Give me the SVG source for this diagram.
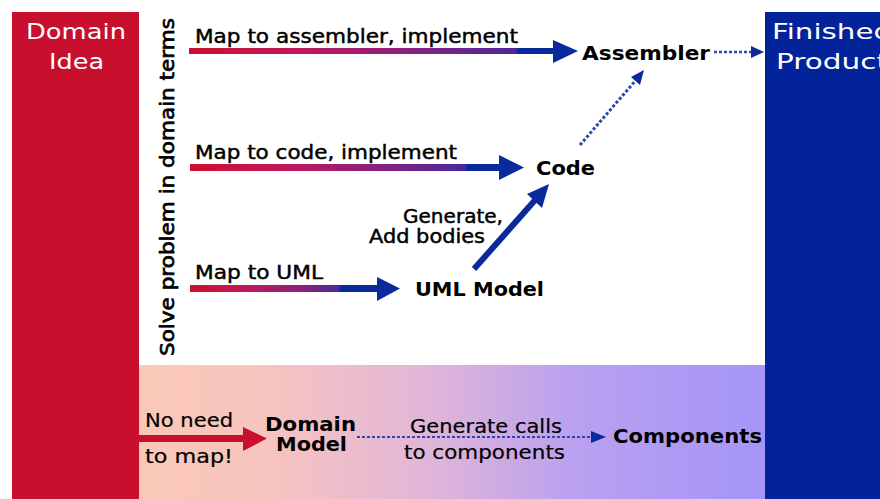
<svg xmlns="http://www.w3.org/2000/svg" width="880" height="499" viewBox="0 0 880 499">
<style>
.lbl{font-family:"DejaVu Sans","Liberation Sans",sans-serif;font-size:19px;fill:#000;stroke:#000;stroke-width:0.45}
.node{font-family:"DejaVu Sans","Liberation Sans",sans-serif;font-size:19px;font-weight:bold;fill:#000}
.wt{font-family:"DejaVu Sans","Liberation Sans",sans-serif;font-size:21px;fill:#fff}
.blue{fill:#0A2A9C}
.dot{stroke:#2A48B0;stroke-width:2.5;stroke-dasharray:3 2;fill:none}
</style>
<defs>
<linearGradient id="g1" gradientUnits="userSpaceOnUse" x1="189" y1="0" x2="556" y2="0">
<stop offset="0" stop-color="#CC1030"/><stop offset="0.3" stop-color="#C0185A"/><stop offset="0.6" stop-color="#8A2080"/><stop offset="0.89" stop-color="#4A2A98"/><stop offset="0.896" stop-color="#0A2A9C"/><stop offset="1" stop-color="#0A2A9C"/>
</linearGradient>
<linearGradient id="g2" gradientUnits="userSpaceOnUse" x1="190" y1="0" x2="501" y2="0">
<stop offset="0" stop-color="#CC1030"/><stop offset="0.3" stop-color="#C0185A"/><stop offset="0.6" stop-color="#8A2080"/><stop offset="0.885" stop-color="#4A2A98"/><stop offset="0.89" stop-color="#0A2A9C"/><stop offset="1" stop-color="#0A2A9C"/>
</linearGradient>
<linearGradient id="g3" gradientUnits="userSpaceOnUse" x1="190" y1="0" x2="378" y2="0">
<stop offset="0" stop-color="#CC1030"/><stop offset="0.3" stop-color="#C0185A"/><stop offset="0.6" stop-color="#8A2080"/><stop offset="0.79" stop-color="#4A2A98"/><stop offset="0.8" stop-color="#0A2A9C"/><stop offset="1" stop-color="#0A2A9C"/>
</linearGradient>
<linearGradient id="band" x1="0" y1="0" x2="1" y2="0">
<stop offset="0" stop-color="#FAC8B6"/><stop offset="0.2" stop-color="#F8C4C0"/><stop offset="0.45" stop-color="#E2B6D6"/><stop offset="0.7" stop-color="#B9A0F0"/><stop offset="1" stop-color="#A595F8"/>
</linearGradient>
</defs>

<rect x="0" y="0" width="880" height="499" fill="#fff"/>

<g id="band-domain-model">
<rect x="139" y="365" width="626" height="134" fill="url(#band)"/>
</g>

<g id="domain-idea">
<rect x="12" y="12" width="127" height="487" fill="#C8102E"/>
<text class="wt" x="26" y="39" textLength="100" lengthAdjust="spacingAndGlyphs">Domain</text>
<text class="wt" x="49" y="69" textLength="55" lengthAdjust="spacingAndGlyphs">Idea</text>
</g>

<g id="finished-product">
<rect x="765" y="12" width="115" height="487" fill="#02239A"/>
<text class="wt" x="772" y="39" textLength="120" lengthAdjust="spacingAndGlyphs">Finished</text>
<text class="wt" x="776" y="69" textLength="112" lengthAdjust="spacingAndGlyphs">Product</text>
</g>

<g id="solve-label">
<text class="lbl" transform="translate(174 356) rotate(-90)" x="0" y="0" textLength="338" lengthAdjust="spacingAndGlyphs" style="font-size:20px;stroke-width:0.7">Solve problem in domain terms</text>
</g>

<g id="assembler">
<text class="node" x="582" y="60" textLength="128" lengthAdjust="spacingAndGlyphs">Assembler</text>
</g>
<g id="code">
<text class="node" x="536" y="175" textLength="59" lengthAdjust="spacingAndGlyphs">Code</text>
</g>
<g id="uml-model">
<text class="node" x="415" y="296" textLength="129" lengthAdjust="spacingAndGlyphs">UML Model</text>
</g>
<g id="domain-model">
<text class="node" x="265" y="431" textLength="91" lengthAdjust="spacingAndGlyphs">Domain</text>
<text class="node" x="276" y="451" textLength="71" lengthAdjust="spacingAndGlyphs">Model</text>
</g>
<g id="components">
<text class="node" x="613" y="443" textLength="149" lengthAdjust="spacingAndGlyphs">Components</text>
</g>

<g id="connectors">
<!-- Map to assembler -->
<rect x="189" y="48" width="366" height="6" fill="url(#g1)"/>
<polygon class="blue" points="553,40 578,51 553,63"/>
<text class="lbl" x="195" y="43" textLength="323" lengthAdjust="spacingAndGlyphs">Map to assembler, implement</text>
<!-- Map to code -->
<rect x="190" y="164" width="311" height="7" fill="url(#g2)"/>
<polygon class="blue" points="499,155 524,167.5 499,180"/>
<text class="lbl" x="195" y="159" textLength="262" lengthAdjust="spacingAndGlyphs">Map to code, implement</text>
<!-- Map to UML -->
<rect x="190" y="285" width="189" height="7" fill="url(#g3)"/>
<polygon class="blue" points="377,277 400,288.5 377,301"/>
<text class="lbl" x="195" y="279" textLength="128" lengthAdjust="spacingAndGlyphs">Map to UML</text>
<!-- UML Model -> Code -->
<line x1="474" y1="269" x2="536" y2="199" stroke="#0A2A9C" stroke-width="6"/>
<polygon class="blue" points="549,184 542,208 527,194"/>
<text class="lbl" x="403" y="223" textLength="100" lengthAdjust="spacingAndGlyphs">Generate,</text>
<text class="lbl" x="369" y="243" textLength="116" lengthAdjust="spacingAndGlyphs">Add bodies</text>
<!-- Code -> Assembler dotted -->
<line class="dot" x1="580" y1="145" x2="636" y2="80" style="stroke-width:3"/>
<polygon class="blue" points="644,70 640,85 631,77"/>
<!-- Assembler -> Finished dotted -->
<line class="dot" x1="714" y1="52" x2="754" y2="52"/>
<polygon class="blue" points="764,52 751,46 751,58"/>
<!-- No need to map -->
<rect x="139" y="435" width="106" height="7" fill="#C8102E"/>
<polygon points="243,427 267,438.5 243,451" fill="#C8102E"/>
<text class="lbl" x="145" y="427" textLength="88" lengthAdjust="spacingAndGlyphs" style="stroke-width:0.2">No need</text>
<text class="lbl" x="145" y="463" textLength="88" lengthAdjust="spacingAndGlyphs" style="stroke-width:0.2">to map!</text>
<!-- Domain Model -> Components dotted -->
<line class="dot" x1="357" y1="437" x2="594" y2="437" style="stroke-width:2"/>
<polygon class="blue" points="606,437 591,431 591,443"/>
<text class="lbl" x="410" y="433" textLength="152" lengthAdjust="spacingAndGlyphs" style="stroke-width:0.2">Generate calls</text>
<text class="lbl" x="404" y="459" textLength="161" lengthAdjust="spacingAndGlyphs" style="stroke-width:0.2">to components</text>
</g>
</svg>
